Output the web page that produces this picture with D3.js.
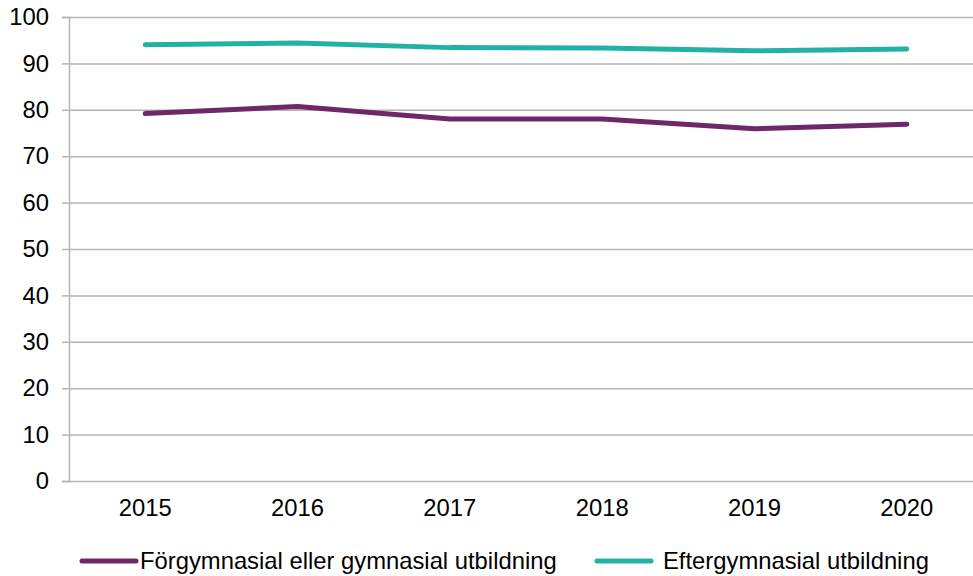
<!DOCTYPE html>
<html><head><meta charset="utf-8">
<script src="https://cdn.jsdelivr.net/npm/d3@7"></script>
<style>body{margin:0;background:#fff}svg{display:block;font-family:"Liberation Sans",Arial,sans-serif}</style>
</head><body>
<svg id="c" width="973" height="576"></svg>
<script>
const years = ["2015","2016","2017","2018","2019","2020"];
const forgymnasial = [79.2, 80.7, 78.0, 78.0, 75.9, 76.9];
const eftergymnasial = [94.0, 94.4, 93.4, 93.3, 92.7, 93.1];
const seriesNames = ["Förgymnasial eller gymnasial utbildning", "Eftergymnasial utbildning"];
const seriesColors = ["#6E2769", "#22B2A5"];
const yTicks = [0,10,20,30,40,50,60,70,80,90,100];

const svg = d3.select("#c");
const L = 69, R = 983, T = 17, B = 481;
const x = d3.scaleBand().domain(years).range([L, R]);
const y = d3.scaleLinear().domain([0,100]).range([B, T]);
const grid = "#b3b3b3";
const fs = 23.8;

// gridlines + y axis
const yAxis = d3.axisLeft(y).tickValues(yTicks).tickSize(7).tickPadding(13).tickFormat(d3.format("d"));
const gy = svg.append("g").attr("transform", `translate(${L},0)`).call(yAxis);
gy.select(".domain").attr("stroke", grid).attr("stroke-width", 1.5);
gy.selectAll(".tick line").attr("stroke", grid).attr("stroke-width", 1.5);
gy.selectAll(".tick text").attr("font-size", fs).attr("fill", "#000").attr("font-family", "Liberation Sans, Arial, sans-serif");
gy.selectAll(".tick").append("line").attr("x1", 0).attr("x2", R - L).attr("stroke", grid).attr("stroke-width", 1.5);

// x axis labels
const xAxis = d3.axisBottom(x).tickSize(0).tickPadding(18);
const gx = svg.append("g").attr("transform", `translate(0,${B})`).call(xAxis);
gx.select(".domain").remove();
gx.selectAll(".tick text").attr("font-size", fs).attr("fill", "#000").attr("font-family", "Liberation Sans, Arial, sans-serif");

const line = d3.line().x((d,i) => x(years[i]) + x.bandwidth()/2).y(d => y(d));
[forgymnasial, eftergymnasial].forEach((s, k) => {
  svg.append("path").datum(s).attr("d", line).attr("fill", "none")
    .attr("stroke", seriesColors[k]).attr("stroke-width", 5)
    .attr("stroke-linecap", "round").attr("stroke-linejoin", "round");
});

// legend
const legX = [82, 597];
const legY = 561;
seriesNames.forEach((n, k) => {
  svg.append("line").attr("x1", legX[k]).attr("x2", legX[k] + 54).attr("y1", legY).attr("y2", legY)
    .attr("stroke", seriesColors[k]).attr("stroke-width", 5).attr("stroke-linecap", "round");
  svg.append("text").attr("x", legX[k] + (k === 0 ? 58 : 66)).attr("y", legY).attr("dy", "0.35em")
    .attr("font-size", fs).attr("fill", "#000").text(n);
});
</script>
</body></html>
